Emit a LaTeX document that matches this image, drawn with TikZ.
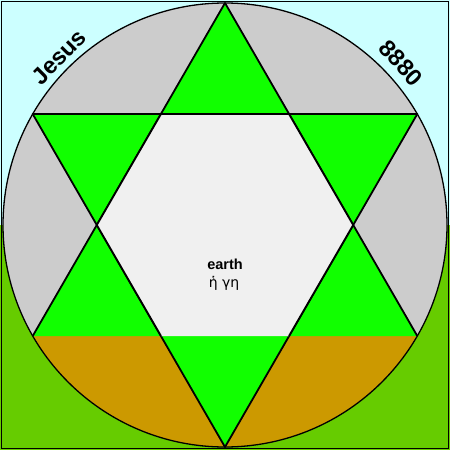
\documentclass[tikz,border=0pt]{standalone}
\usepackage{fontspec}
\setmainfont{Liberation Sans}
\newfontfamily\greekfont{DejaVu Sans}
\definecolor{skyc}{HTML}{CCFFFF}
\definecolor{grassc}{HTML}{66CC00}
\definecolor{greyc}{HTML}{CCCCCC}
\definecolor{goldc}{HTML}{CC9900}
\definecolor{starc}{HTML}{11FF00}
\definecolor{hexc}{HTML}{F0F0F0}
\tikzset{
  edge/.style={line width=1.8pt, line join=round},
  lbl/.style={font=\bfseries, text=black, inner sep=0pt},
}
\begin{document}
\begin{tikzpicture}[x=1pt,y=-1pt]
\useasboundingbox (0,0) rectangle (450,450);
% background
\fill[skyc] (0,0) rectangle (450,450);
\fill[grassc] (0,225) rectangle (450,450);
% circle
\coordinate (c) at (225,225);
\fill[greyc] (c) circle[radius=222pt];
\begin{scope}
  \clip (c) circle[radius=222pt];
  \fill[goldc] (0,336) rectangle (450,450);
\end{scope}
\draw[line width=1.3pt] (c) circle[radius=222pt];
% star vertices
\coordinate (t) at (225,3);
\coordinate (bl) at (32.7,336);
\coordinate (br) at (417.3,336);
\coordinate (tl) at (32.7,114);
\coordinate (tr) at (417.3,114);
\coordinate (b) at (225,447);
\fill[starc] (t) -- (bl) -- (br) -- cycle;
\fill[starc] (tl) -- (tr) -- (b) -- cycle;
\draw[edge] (bl) -- (t) -- (br);
\draw[edge] (tl) -- (tr) -- (b) -- cycle;
% hexagon
\coordinate (h1) at (161,114);
\coordinate (h2) at (289,114);
\coordinate (h3) at (353.2,225);
\coordinate (h4) at (289,336);
\coordinate (h5) at (161,336);
\coordinate (h6) at (96.8,225);
\fill[hexc] (h1) -- (h2) -- (h3) -- (h4) -- (h5) -- (h6) -- cycle;
\draw[edge] (h5) -- (h6) -- (h1) -- (h2) -- (h3) -- (h4);
% border
\draw[line width=1.2pt] (1.5,1.5) rectangle (448.5,448.5);
% labels
\node[lbl, font=\bfseries\fontsize{23.5}{25}\selectfont, rotate=45] (jesus) at (59,57) {Jesus};
\node[lbl, font=\bfseries\fontsize{23.5}{25}\selectfont, rotate=-47] (num) at (401,63) {8880};
\node[lbl, font=\bfseries\fontsize{14.5}{16}\selectfont] (earth) at (225,264) {earth};
\node[inner sep=0pt, font=\greekfont\fontsize{14}{16}\selectfont] (gr) at (224,283) {ἡ γη};
\end{tikzpicture}
\end{document}
